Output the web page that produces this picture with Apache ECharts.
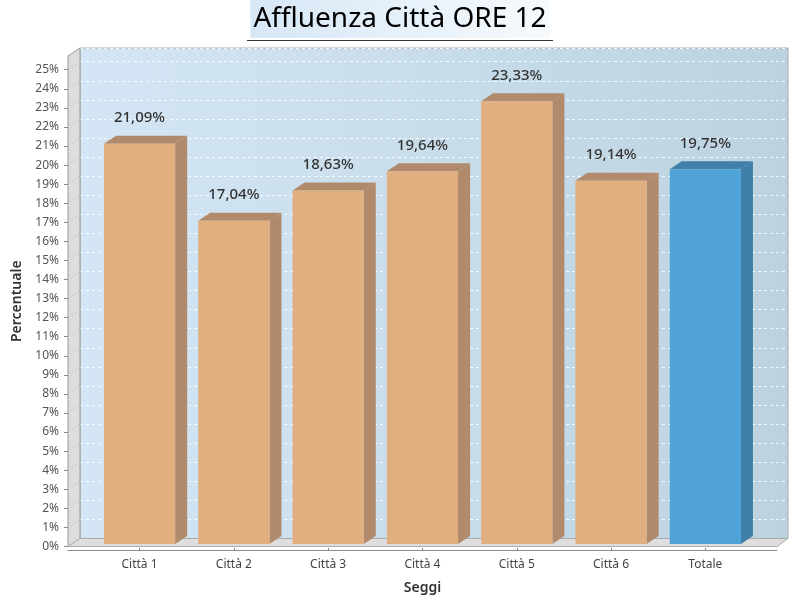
<!DOCTYPE html>
<html><head><meta charset="utf-8">
<script src="https://cdn.jsdelivr.net/npm/echarts@6/dist/echarts.min.js"></script>
<style>html,body{margin:0;padding:0;background:#fff}#c{width:800px;height:600px}</style>
</head><body><div id="c"></div>
<script>
const categories = ['Città 1','Città 2','Città 3','Città 4','Città 5','Città 6','Totale'];
const values = [21.09, 17.04, 18.63, 19.64, 23.33, 19.14, 19.75];
const highlight = [false, false, false, false, false, false, true];
const tickValues = [0,1,2,3,4,5,6,7,8,9,10,11,12,13,14,15,16,17,18,19,20,21,22,23,24,25];

const FONT = 'Noto Sans';
const DX = 12, DY = 8;
const TOP = 56, BOTTOM = 53.5, LEFT = 68, RIGHT = 23;
const YMAX = 25.72;
const XMIN = -0.76, XMAX = 6.76;

const chart = echarts.init(document.getElementById('c'));

function bar3d(params, api) {
  const i = api.value(0), v = api.value(1);
  const top = api.coord([i, v]);
  const base = api.coord([i, 0]);
  const bw = api.size([1, 0])[0] * 0.755;
  const x0 = top[0] - bw / 2, x1 = top[0] + bw / 2;
  const yt = top[1], yb = base[1];
  const hl = highlight[params.dataIndex];
  const front = hl ? '#4fa3d8' : '#e1ae80';
  const side = hl ? '#3f7fa8' : '#b08a6b';
  const topc = hl ? '#3f7fa8' : '#b08a6b';
  return {
    type: 'group',
    children: [
      { type: 'polygon', shape: { points: [[x1, yt], [x1 + DX, yt - DY], [x1 + DX, yb - DY], [x1, yb]] }, style: { fill: side } },
      { type: 'polygon', shape: { points: [[x0, yt], [x0 + DX, yt - DY], [x1 + DX, yt - DY], [x1, yt]] }, style: { fill: topc } },
      { type: 'rect', shape: { x: x0, y: yt, width: bw, height: yb - yt }, style: { fill: front } },
      { type: 'text', x: top[0], y: yt - 26, style: { text: v.toFixed(2).replace('.', ',') + '%', fill: '#333', font: '500 15px "' + FONT + '"', align: 'center', verticalAlign: 'middle' } }
    ]
  };
}

function wallTick(params, api) {
  const p = api.coord([api.value(0), api.value(1)]);
  return { type: 'line', shape: { x1: p[0], y1: p[1], x2: p[0] + DX, y2: p[1] - DY }, style: { stroke: '#c2c2c2', lineWidth: 1, lineDash: [2, 2] } };
}

chart.setOption({
  animation: false,
  backgroundColor: '#fff',
  title: {
    text: 'Affluenza Città ORE 12',
    left: 'center', top: 0,
    padding: [5, 3, 5, 3],
    backgroundColor: { type: 'linear', x: 0, y: 0, x2: 1, y2: 0, colorStops: [{ offset: 0, color: '#d6e7f6' }, { offset: 1, color: '#f6fafd' }] },
    textStyle: { fontFamily: FONT, fontSize: 28, fontWeight: 'normal', color: '#000' }
  },
  grid: [
    { left: LEFT, right: RIGHT, top: TOP, bottom: BOTTOM },
    { left: 92.4, right: 47.5, top: TOP, bottom: BOTTOM },
    { left: LEFT + DX, right: RIGHT - DX + 1, top: TOP - DY, bottom: BOTTOM + DY, show: true,
      backgroundColor: { type: 'linear', x: 0, y: 0, x2: 1, y2: 0, colorStops: [{ offset: 0, color: '#d4e6f5' }, { offset: 1, color: '#bcd3df' }] },
      borderColor: '#aaa', borderWidth: 1 }
  ],
  xAxis: [
    { gridIndex: 0, type: 'value', min: XMIN, max: XMAX, offset: 4, axisLine: { show: true, onZero: false, lineStyle: { color: '#888' } }, axisTick: { show: false }, axisLabel: { show: false }, splitLine: { show: false } },
    { gridIndex: 1, type: 'category', data: categories, offset: 4,
      axisLine: { show: false, onZero: false }, axisTick: { show: true, alignWithLabel: true, length: 3, lineStyle: { color: '#888' } },
      axisLabel: { color: '#444', fontFamily: FONT, fontSize: 12, margin: 11 },
      name: 'Seggi', nameLocation: 'middle', nameGap: 33,
      nameTextStyle: { color: '#333', fontFamily: FONT, fontSize: 14, fontWeight: 600 } },
    { gridIndex: 2, type: 'value', min: 0, max: 1, show: false }
  ],
  yAxis: [
    { gridIndex: 0, type: 'value', min: 0, max: YMAX, interval: 1,
      axisLine: { show: true, onZero: false, lineStyle: { color: '#888' } },
      axisTick: { show: true, length: 4, lineStyle: { color: '#888' } },
      axisLabel: { color: '#555', fontFamily: FONT, fontSize: 12, margin: 9, formatter: function (v) { return Number.isInteger(v) ? v + '%' : ''; }, showMaxLabel: false },
      splitLine: { show: false },
      name: 'Percentuale', nameLocation: 'middle', nameRotate: 90, nameGap: 40,
      nameTextStyle: { color: '#333', fontFamily: FONT, fontSize: 14, fontWeight: 600 } },
    { gridIndex: 1, type: 'value', min: 0, max: YMAX, interval: 1, show: false, axisLine: { show: false, onZero: false }, axisTick: { show: false }, splitLine: { show: false } },
    { gridIndex: 2, type: 'value', min: 0, max: YMAX, interval: 1,
      axisLine: { show: false, onZero: false }, axisTick: { show: false }, axisLabel: { show: false },
      splitLine: { show: true, lineStyle: { color: 'rgba(255,255,255,0.85)', type: [3, 3], width: 1 } } }
  ],
  graphic: [
    { type: 'line', z: 10, shape: { x1: 247, y1: 40.5, x2: 553, y2: 40.5 }, style: { stroke: '#333', lineWidth: 1 } },
    { type: 'polygon', z: 1, shape: { points: [[LEFT, TOP], [LEFT + DX, TOP - DY], [LEFT + DX, 600 - BOTTOM - DY], [LEFT, 600 - BOTTOM]] }, style: { fill: '#dedede', stroke: '#999', lineWidth: 1 } },
    { type: 'polygon', z: 1, shape: { points: [[LEFT, 600 - BOTTOM], [LEFT + DX, 600 - BOTTOM - DY], [800 - RIGHT + DX - 1, 600 - BOTTOM - DY], [800 - RIGHT, 600 - BOTTOM]] }, style: { fill: '#dedede', stroke: '#aaa', lineWidth: 1 } }
  ],
  series: [
    { type: 'custom', xAxisIndex: 0, yAxisIndex: 0, z: 3, renderItem: wallTick, data: tickValues.map(v => [XMIN, v]), encode: { x: 0, y: 1 }, silent: true, clip: false },
    { type: 'custom', xAxisIndex: 1, yAxisIndex: 1, z: 5, renderItem: bar3d, data: values.map((v, i) => [i, v]), encode: { x: 0, y: 1 } }
  ]
});
</script></body></html>
